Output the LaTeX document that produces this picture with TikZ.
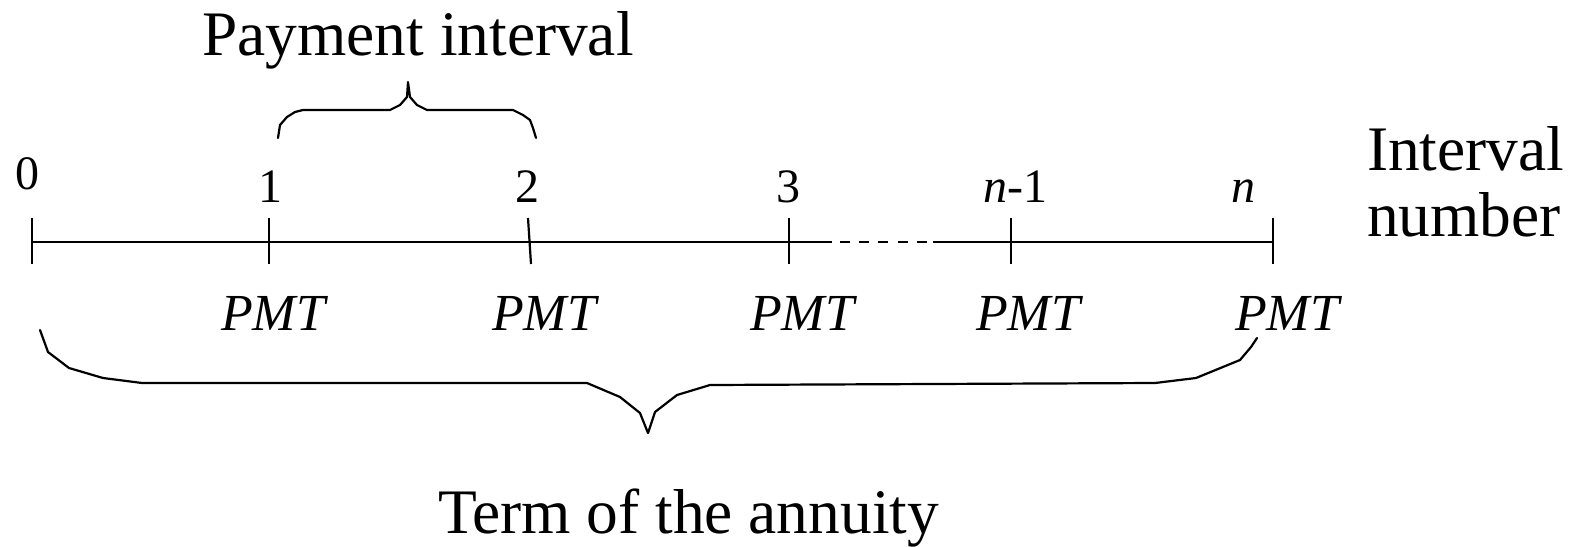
\documentclass[tikz,border=0pt]{standalone}
\usepackage{fontspec}
\setmainfont{Liberation Serif}

\begin{document}
\begin{tikzpicture}[
    x=0.5pt, y=-0.5pt,
    line width=1.1pt,
    numlbl/.style={anchor=base, inner sep=0pt, font=\fontsize{24}{26}\selectfont},
    pmtlbl/.style={anchor=base, inner sep=0pt, font=\fontsize{26}{28}\selectfont\itshape},
    bigtxt/.style={inner sep=0pt, font=\fontsize{31.7}{33}\selectfont},
    tickmark/.style={line cap=butt},
    brace/.style={line join=round, line cap=round}
  ]
    \useasboundingbox (0,0) rectangle (1578,546);
    % time line
    \coordinate (t0) at (32,242);
    \coordinate (t1) at (269,242);
    \coordinate (t2) at (529,242);
    \coordinate (t3) at (789,242);
    \coordinate (tm) at (1011,242);
    \coordinate (tn) at (1273,242);
    \coordinate (gapa) at (832,242);
    \coordinate (dasha) at (840,242);
    \coordinate (dashb) at (927,242);
    \coordinate (gapb) at (933,242);
    \draw (t0) -- (gapa);
    \draw[dash pattern=on 5pt off 4.6pt] (dasha) -- (dashb);
    \draw (gapb) -- (tn);
    \draw[tickmark] (t0) ++(0,-24) -- ++(0,46);
    \draw[tickmark] (t1) ++(0,-24) -- ++(0,46);
    \draw[tickmark] (t2) ++(-1,-24) -- ++(3,46);
    \draw[tickmark] (t3) ++(0,-24) -- ++(0,46);
    \draw[tickmark] (tm) ++(0,-24) -- ++(0,46);
    \draw[tickmark] (tn) ++(0,-24) -- ++(0,46);
    % interval numbers
    \node[numlbl] (n0) at (27,189) {0};
    \node[numlbl] (n1) at (270,202) {1};
    \node[numlbl] (n2) at (527,202) {2};
    \node[numlbl] (n3) at (788,202) {3};
    \node[numlbl] (nm) at (1015,202) {\textit{n}-1};
    \node[numlbl] (nn) at (1243,202) {\textit{n}};
    % payments
    \node[pmtlbl] (p1) at (273,330) {PMT};
    \node[pmtlbl] (p2) at (544,330) {PMT};
    \node[pmtlbl] (p3) at (802,330) {PMT};
    \node[pmtlbl] (pm) at (1028,330) {PMT};
    \node[pmtlbl] (pn) at (1287,330) {PMT};
    % labels
    \node[bigtxt, anchor=base] (payint) at (418,55) {Payment interval};
    \node[bigtxt, anchor=north west, align=left] (intnum) at (1366,125) {Interval\\number};
    \node[bigtxt, anchor=base west] (term) at (437,533) {Term of the annuity};
    % braces
    \draw[brace] (278,138) -- (280,125) -- (287,117) -- (295,112) -- (303,110)
      -- (390,110) -- (400,105) -- (407,97) -- (408,82)
      -- (410,97) -- (417,105) -- (427,110) -- (513,110)
      -- (523,115) -- (530,120) -- (533,128) -- (536,138);
    \draw[brace] (40,330) -- (48,352) -- (69,368) -- (103,378) -- (142,383)
      -- (587,383) -- (620,397) -- (640,413) -- (648,433)
      -- (655,412) -- (677,395) -- (710,385) -- (1155,383)
      -- (1196,378) -- (1240,360) -- (1251,347) -- (1257,338);
  \end{tikzpicture}
\end{document}
